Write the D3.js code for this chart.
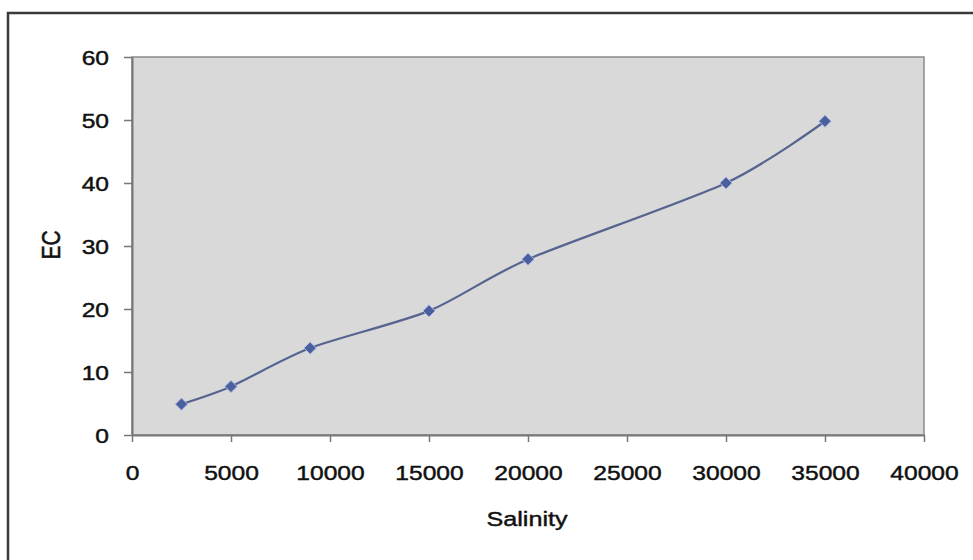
<!DOCTYPE html>
<html><head><meta charset="utf-8">
<script src="https://cdn.jsdelivr.net/npm/d3@7"></script>
<style>
html,body{margin:0;padding:0;background:#fff;}
text{font-family:"Liberation Sans",Arial,sans-serif;fill:#111;stroke:#111;stroke-width:0.45px;}
</style></head>
<body><svg id="c" width="973" height="560"></svg>
<script>
const salinity = [2500, 5000, 9000, 15000, 20000, 30000, 35000];
const ec = [4.9, 7.7, 13.8, 19.7, 27.9, 40.0, 49.8];
const xTicks = [0, 5000, 10000, 15000, 20000, 25000, 30000, 35000, 40000];
const yTicks = [0, 10, 20, 30, 40, 50, 60];
const xTitle = "Salinity";
const yTitle = "EC";

const svg = d3.select("#c");
const L = 132, R = 924, T = 57, B = 435;
const sx = 1.2; // horizontal stretch of the reference text

// outer frame
svg.append("rect").attr("x", 8).attr("y", 13).attr("width", 1000).attr("height", 600)
  .attr("fill", "#fff").attr("stroke", "#3a3a3a").attr("stroke-width", 2.5);

const x = d3.scaleLinear().domain([0, 40000]).range([L, R]);
const y = d3.scaleLinear().domain([0, 60]).range([B, T]);

// plot area
svg.append("rect").attr("x", L).attr("y", T).attr("width", R - L).attr("height", B - T)
  .attr("fill", "#d9d9d9").attr("stroke", "#8a8a8a").attr("stroke-width", 1.5);

// axes
const xAxis = svg.append("g").attr("transform", `translate(0,${B})`)
  .call(d3.axisBottom(x).tickValues(xTicks).tickFormat(d3.format("d")).tickSizeOuter(0).tickSizeInner(7).tickPadding(0));
const yAxis = svg.append("g").attr("transform", `translate(${L},0)`)
  .call(d3.axisLeft(y).tickValues(yTicks).tickFormat(d3.format("d")).tickSizeOuter(0).tickSizeInner(8).tickPadding(0));

[xAxis, yAxis].forEach(a => {
  a.select(".domain").attr("stroke", "#777").attr("stroke-width", 2);
  a.selectAll(".tick line").attr("stroke", "#777").attr("stroke-width", 1.5);
  a.selectAll("text").style("font-size", "20.5px").attr("fill", "#111");
});
xAxis.selectAll(".tick text").attr("y", 45).attr("dy", null)
  .attr("transform", `scale(${sx},1)`);
yAxis.selectAll(".tick text").attr("x", -23 / sx).attr("dy", "0.36em")
  .attr("transform", `scale(${sx},1)`);

// axis titles
svg.append("text").attr("transform", `translate(${(L + R) / 2 - 1},526) scale(${sx},1)`)
  .attr("text-anchor", "middle").style("font-size", "21px").text(xTitle);
svg.append("text").attr("transform", `translate(60,245) rotate(-90) scale(1,${sx})`)
  .attr("text-anchor", "middle").style("font-size", "21px").text(yTitle);

// line
const pts = salinity.map((s, i) => [s, ec[i]]);
const line = d3.line().x(d => x(d[0])).y(d => y(d[1])).curve(d3.curveCardinal.tension(0.2));
svg.append("path").datum(pts).attr("d", line).attr("fill", "none")
  .attr("stroke", "#56648f").attr("stroke-width", 2.2);

// markers
const sym = d3.symbol().type(d3.symbolDiamond2).size(95);
svg.selectAll(".m").data(pts).join("path").attr("class", "m")
  .attr("transform", d => `translate(${x(d[0])},${y(d[1])})`)
  .attr("d", sym).attr("fill", "#4a5f9e").attr("stroke", "#a9b8e6").attr("stroke-width", 1);
</script></body></html>
